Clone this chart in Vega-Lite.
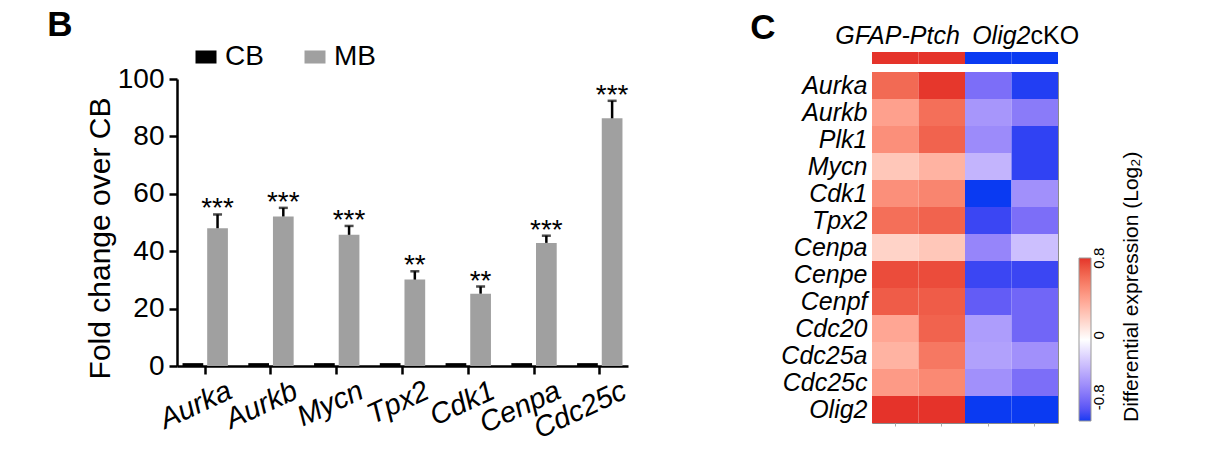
{
  "$schema": "https://vega.github.io/schema/vega-lite/v6.json",
  "padding": {"left": 47, "top": 8, "right": 5, "bottom": 5},
  "config": {
    "font": "Liberation Sans",
    "view": {"stroke": null},
    "axis": {"labelColor": "black", "titleColor": "black", "grid": false},
    "legend": {"labelColor": "black", "titleColor": "black"}
  },
  "datasets": {
    "bars": [
      {"gene": "Aurka", "group": "CB", "value": 1},
      {"gene": "Aurka", "group": "MB", "value": 48.0, "err": 52.8, "sig": "***"},
      {"gene": "Aurkb", "group": "CB", "value": 1},
      {"gene": "Aurkb", "group": "MB", "value": 52.1, "err": 55.1, "sig": "***"},
      {"gene": "Mycn", "group": "CB", "value": 1},
      {"gene": "Mycn", "group": "MB", "value": 45.7, "err": 48.8, "sig": "***"},
      {"gene": "Tpx2", "group": "CB", "value": 1},
      {"gene": "Tpx2", "group": "MB", "value": 30.1, "err": 33.0, "sig": "**"},
      {"gene": "Cdk1", "group": "CB", "value": 1},
      {"gene": "Cdk1", "group": "MB", "value": 25.2, "err": 27.7, "sig": "**"},
      {"gene": "Cenpa", "group": "CB", "value": 1},
      {"gene": "Cenpa", "group": "MB", "value": 42.9, "err": 45.4, "sig": "***"},
      {"gene": "Cdc25c", "group": "CB", "value": 1},
      {"gene": "Cdc25c", "group": "MB", "value": 86.3, "err": 92.4, "sig": "***"}
    ],
    "heat": [
      {"gene": "Aurka", "sample": "Ptch-1", "value": 0.72}, {"gene": "Aurka", "sample": "Ptch-2", "value": 0.91}, {"gene": "Aurka", "sample": "cKO-1", "value": -0.66}, {"gene": "Aurka", "sample": "cKO-2", "value": -0.9},
      {"gene": "Aurkb", "sample": "Ptch-1", "value": 0.47}, {"gene": "Aurkb", "sample": "Ptch-2", "value": 0.7}, {"gene": "Aurkb", "sample": "cKO-1", "value": -0.47}, {"gene": "Aurkb", "sample": "cKO-2", "value": -0.6},
      {"gene": "Plk1", "sample": "Ptch-1", "value": 0.55}, {"gene": "Plk1", "sample": "Ptch-2", "value": 0.75}, {"gene": "Plk1", "sample": "cKO-1", "value": -0.52}, {"gene": "Plk1", "sample": "cKO-2", "value": -0.88},
      {"gene": "Mycn", "sample": "Ptch-1", "value": 0.28}, {"gene": "Mycn", "sample": "Ptch-2", "value": 0.38}, {"gene": "Mycn", "sample": "cKO-1", "value": -0.33}, {"gene": "Mycn", "sample": "cKO-2", "value": -0.88},
      {"gene": "Cdk1", "sample": "Ptch-1", "value": 0.55}, {"gene": "Cdk1", "sample": "Ptch-2", "value": 0.6}, {"gene": "Cdk1", "sample": "cKO-1", "value": -0.92}, {"gene": "Cdk1", "sample": "cKO-2", "value": -0.5},
      {"gene": "Tpx2", "sample": "Ptch-1", "value": 0.7}, {"gene": "Tpx2", "sample": "Ptch-2", "value": 0.75}, {"gene": "Tpx2", "sample": "cKO-1", "value": -0.86}, {"gene": "Tpx2", "sample": "cKO-2", "value": -0.66},
      {"gene": "Cenpa", "sample": "Ptch-1", "value": 0.22}, {"gene": "Cenpa", "sample": "Ptch-2", "value": 0.28}, {"gene": "Cenpa", "sample": "cKO-1", "value": -0.55}, {"gene": "Cenpa", "sample": "cKO-2", "value": -0.28},
      {"gene": "Cenpe", "sample": "Ptch-1", "value": 0.84}, {"gene": "Cenpe", "sample": "Ptch-2", "value": 0.84}, {"gene": "Cenpe", "sample": "cKO-1", "value": -0.86}, {"gene": "Cenpe", "sample": "cKO-2", "value": -0.86},
      {"gene": "Cenpf", "sample": "Ptch-1", "value": 0.78}, {"gene": "Cenpf", "sample": "Ptch-2", "value": 0.78}, {"gene": "Cenpf", "sample": "cKO-1", "value": -0.75}, {"gene": "Cenpf", "sample": "cKO-2", "value": -0.7},
      {"gene": "Cdc20", "sample": "Ptch-1", "value": 0.44}, {"gene": "Cdc20", "sample": "Ptch-2", "value": 0.75}, {"gene": "Cdc20", "sample": "cKO-1", "value": -0.44}, {"gene": "Cdc20", "sample": "cKO-2", "value": -0.7},
      {"gene": "Cdc25a", "sample": "Ptch-1", "value": 0.38}, {"gene": "Cdc25a", "sample": "Ptch-2", "value": 0.66}, {"gene": "Cdc25a", "sample": "cKO-1", "value": -0.42}, {"gene": "Cdc25a", "sample": "cKO-2", "value": -0.5},
      {"gene": "Cdc25c", "sample": "Ptch-1", "value": 0.5}, {"gene": "Cdc25c", "sample": "Ptch-2", "value": 0.58}, {"gene": "Cdc25c", "sample": "cKO-1", "value": -0.5}, {"gene": "Cdc25c", "sample": "cKO-2", "value": -0.66},
      {"gene": "Olig2", "sample": "Ptch-1", "value": 0.92}, {"gene": "Olig2", "sample": "Ptch-2", "value": 0.92}, {"gene": "Olig2", "sample": "cKO-1", "value": -0.92}, {"gene": "Olig2", "sample": "cKO-2", "value": -0.92}
    ],
    "groups": [
      {"sample": "Ptch-1", "group": "GFAP-Ptch", "row": "group"},
      {"sample": "Ptch-2", "group": "GFAP-Ptch", "row": "group"},
      {"sample": "cKO-1", "group": "Olig2cKO", "row": "group"},
      {"sample": "cKO-2", "group": "Olig2cKO", "row": "group"}
    ],
    "grouplabels": [
      {"label": "GFAP-Ptch", "part": "a", "sample": "Ptch-1", "row": "group"},
      {"label": "Olig2", "part": "b", "sample": "cKO-1", "row": "group"},
      {"label": "cKO", "part": "c", "sample": "cKO-1", "row": "group"}
    ],
    "empty": []
  },
  "resolve": {"scale": {"color": "independent"}, "legend": {"color": "independent"}},
  "spacing": 119,
  "hconcat": [
    {
      "title": {"text": "B", "anchor": "start", "fontSize": 35, "fontWeight": "bold", "baseline": "alphabetic", "offset": -28, "dx": -38, "color": "black"},
      "bounds": "flush",
      "spacing": 20,
      "resolve": {"scale": {"color": "independent"}, "legend": {"color": "independent"}},
      "vconcat": [
        {
          "width": 451,
          "height": 7,
          "data": {"name": "empty"},
          "mark": "point"
        },
        {
          "width": 451,
          "height": 287,
          "data": {"name": "bars"},
          "encoding": {
            "x": {
              "field": "gene", "type": "nominal", "sort": null,
              "scale": {"paddingInner": 0.31, "paddingOuter": 0.084},
              "axis": {
                "title": null, "labelAngle": -25, "labelAlign": "right", "labelBaseline": "top",
                "labelFontSize": 29, "labelFontStyle": "italic", "labelOffset": 19, "labelPadding": 2,
                "tickSize": 8, "tickWidth": 2.5, "tickColor": "black", "domainColor": "black", "domainWidth": 2.5
              }
            },
            "xOffset": {"field": "group", "type": "nominal", "sort": ["CB", "MB"], "scale": {"paddingInner": 0.16, "paddingOuter": 0}}
          },
          "layer": [
            {
              "mark": {"type": "bar"},
              "encoding": {
                "y": {
                  "field": "value", "type": "quantitative",
                  "scale": {"domain": [0, 100], "nice": false},
                  "axis": {
                    "title": "Fold change over CB", "titleFontSize": 30, "titleFontWeight": "normal", "titlePadding": 2, "titleY": 159,
                    "values": [0, 20, 40, 60, 80, 100], "labelFontSize": 28, "labelPadding": 5,
                    "tickSize": 8, "tickWidth": 2.5, "tickColor": "black", "domainColor": "black", "domainWidth": 2.5
                  }
                },
                "color": {
                  "field": "group", "type": "nominal",
                  "scale": {"domain": ["CB", "MB"], "range": ["#000000", "#a0a0a0"]},
                  "legend": {
                    "title": null, "orient": "none", "legendX": 15, "legendY": -36, "direction": "horizontal",
                    "symbolType": "M-1,-0.62H1V0.62H-1Z", "symbolSize": 441, "symbolStrokeWidth": 0,
                    "labelFontSize": 28, "labelOffset": 5, "columnPadding": 37
                  }
                }
              }
            },
            {
              "transform": [{"filter": "datum.group == 'MB'"}],
              "mark": {"type": "rule", "color": "black", "strokeWidth": 2.5},
              "encoding": {
                "y": {"field": "value", "type": "quantitative"},
                "y2": {"field": "err"}
              }
            },
            {
              "transform": [{"filter": "datum.group == 'MB'"}],
              "mark": {"type": "tick", "color": "black", "thickness": 2.5, "size": 9, "orient": "horizontal"},
              "encoding": {
                "y": {"field": "err", "type": "quantitative"}
              }
            },
            {
              "transform": [{"filter": "datum.group == 'MB'"}],
              "mark": {"type": "text", "fontSize": 28, "baseline": "alphabetic", "dy": 3, "color": "black"},
              "encoding": {
                "y": {"field": "err", "type": "quantitative"},
                "text": {"field": "sig"}
              }
            }
          ]
        }
      ]
    },
    {
      "title": {"text": "C", "anchor": "start", "fontSize": 35, "fontWeight": "bold", "baseline": "alphabetic", "offset": -50, "dx": -30, "color": "black"},
      "spacing": 7,
      "resolve": {"scale": {"color": "independent"}, "legend": {"color": "independent"}},
      "vconcat": [
        {
          "width": 186,
          "height": 12,
          "encoding": {
            "x": {"field": "sample", "type": "nominal", "sort": null, "scale": {"paddingInner": 0, "paddingOuter": 0}, "axis": null},
            "y": {"field": "row", "type": "nominal", "scale": {"paddingInner": 0, "paddingOuter": 0}, "axis": null}
          },
          "layer": [
            {
              "data": {"name": "groups"},
              "mark": {"type": "rect"},
              "encoding": {
                "color": {"field": "group", "type": "nominal", "scale": {"domain": ["GFAP-Ptch", "Olig2cKO"], "range": ["#e5332a", "#0a3af2"]}, "legend": null}
              }
            },
            {
              "data": {"name": "grouplabels"},
              "transform": [{"filter": "datum.part == 'a'"}],
              "mark": {"type": "text", "fontSize": 25, "fontStyle": "italic", "align": "center", "baseline": "alphabetic", "dx": -21, "dy": -8, "color": "black"},
              "encoding": {
                "x": {"field": "sample", "type": "nominal", "bandPosition": 1},
                "y": {"field": "row", "type": "nominal", "bandPosition": 0},
                "text": {"field": "label"}
              }
            },
            {
              "data": {"name": "grouplabels"},
              "transform": [{"filter": "datum.part == 'b'"}],
              "mark": {"type": "text", "fontSize": 25, "fontStyle": "italic", "align": "right", "baseline": "alphabetic", "dx": 19, "dy": -8, "color": "black"},
              "encoding": {
                "x": {"field": "sample", "type": "nominal", "bandPosition": 1},
                "y": {"field": "row", "type": "nominal", "bandPosition": 0},
                "text": {"field": "label"}
              }
            },
            {
              "data": {"name": "grouplabels"},
              "transform": [{"filter": "datum.part == 'c'"}],
              "mark": {"type": "text", "fontSize": 25, "fontStyle": "normal", "align": "left", "baseline": "alphabetic", "dx": 19, "dy": -8, "color": "black"},
              "encoding": {
                "x": {"field": "sample", "type": "nominal", "bandPosition": 1},
                "y": {"field": "row", "type": "nominal", "bandPosition": 0},
                "text": {"field": "label"}
              }
            }
          ]
        },
        {
          "width": 186,
          "height": 351,
          "view": {"stroke": "#8a8a8a", "strokeWidth": 1},
          "data": {"name": "heat"},
          "mark": {"type": "rect"},
          "encoding": {
            "x": {
              "field": "sample", "type": "nominal", "sort": null,
              "scale": {"paddingInner": 0, "paddingOuter": 0},
              "axis": {"title": null, "labels": false, "domain": false, "ticks": true, "tickSize": 3, "tickColor": "#aaaaaa", "tickWidth": 1}
            },
            "y": {
              "field": "gene", "type": "nominal", "sort": null,
              "scale": {"paddingInner": 0, "paddingOuter": 0},
              "axis": {"title": null, "ticks": false, "domain": false, "labelFontSize": 25, "labelFontStyle": "italic", "labelPadding": 5}
            },
            "color": {
              "field": "value", "type": "quantitative",
              "scale": {"domain": [-0.92, 0, 0.92], "range": ["#0a3af2", "#ffffff", "#e5332a"], "interpolate": "lab"},
              "legend": {
                "title": "Differential expression (Log₂)", "orient": "none", "legendX": 207, "legendY": 186,
                "direction": "vertical", "gradientLength": 163, "gradientThickness": 12,
                "gradientStrokeColor": "#999999", "gradientStrokeWidth": 1,
                "values": [-0.8, 0, 0.8],
                "labelExpr": "datum.value == 0 ? '0' : (datum.value < 0 ? '-' : '') + format(abs(datum.value), '.1f')",
                "labelFontSize": 15, "labelAlign": "center", "labelBaseline": "top", "labelOffset": 8, "labelOverlap": false,
                "titleFontSize": 21, "titleFontWeight": "normal", "titleOrient": "right", "titleLimit": 400,
                "titleAnchor": "start", "titleAlign": "left", "titleBaseline": "top", "titlePadding": 14,
                "encoding": {
                  "labels": {"angle": {"value": 270}},
                  "title": {"angle": {"value": 270}}
                }
              }
            }
          }
        }
      ]
    }
  ]
}
